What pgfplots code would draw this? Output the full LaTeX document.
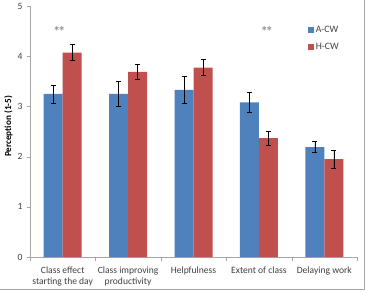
\documentclass[border=0pt]{standalone}
\usepackage{pgfplots}
\pgfplotsset{compat=1.18}
\usepackage{pgfplotstable}
\usepackage{fontspec}
\setmainfont{Carlito}

\definecolor{acw}{HTML}{4F81BD}
\definecolor{hcw}{HTML}{C0504D}
\definecolor{axisgray}{HTML}{A6A6A6}
\definecolor{labelgray}{HTML}{404040}

% mean perception score and its error, per item
\pgfplotstableread{
x  y     err
0  3.25  0.18
1  3.25  0.25
2  3.33  0.26
3  3.08  0.20
4  2.19  0.11
}\acwdata
\pgfplotstableread{
x  y     err
0  4.07  0.16
1  3.69  0.15
2  3.77  0.16
3  2.37  0.14
4  1.95  0.18
}\hcwdata

\begin{document}
\begin{tikzpicture}
\path[use as bounding box] (0,0) rectangle (369bp,294bp);
% outer chart frame
\draw[gray!70, line width=0.8pt] (0,5bp) -- (364bp,5bp) -- (364bp,294bp);
\begin{axis}[
  at={(30bp,37bp)}, anchor=south west,
  scale only axis,
  width=327bp, height=251bp,
  xmin=-0.5, xmax=4.5,
  ymin=0, ymax=5,
  axis lines*=left,
  axis line style={draw=axisgray, line width=0.6pt},
  ybar=0pt, bar width=19bp,
  xtick={0,1,2,3,4},
  xticklabels={{Class effect\\starting the day},{Class improving\\productivity},{Helpfulness},{Extent of class},{Delaying work}},
  x tick label style={align=center, font=\fontsize{9.6}{11.5}\selectfont, text=labelgray, yshift=-3bp},
  major x tick style={draw=none},
  minor xtick={-0.5,0.5,1.5,2.5,3.5,4.5},
  minor x tick style={draw=axisgray},
  minor tick length=4bp,
  ytick={0,1,2,3,4,5},
  y tick label style={font=\fontsize{9.6}{10}\selectfont, text=labelgray, xshift=-1bp},
  major y tick style={draw=axisgray},
  major tick length=3bp,
  tick align=outside,
  /pgf/number format/assume math mode=true,
  ylabel={\bfseries Perception (1-5)},
  ylabel style={font=\fontsize{9.2}{10}\selectfont, text=black,
    at={(axis description cs:0,0.52)}, anchor=south, yshift=14bp},
  legend style={draw=none, fill=none, at={(rel axis cs:0.84,0.935)}, anchor=north west,
    font=\fontsize{9.8}{10}\selectfont, text=labelgray, row sep=4.5bp,
    /tikz/every even column/.append style={column sep=2bp}},
  legend cell align=left,
  legend image code/.code={\fill[#1] (0bp,-3bp) rectangle (6bp,3bp);},
  error bars/error bar style={black, line width=0.6pt},
  error bars/error mark options={rotate=90, mark size=2.5bp, line width=0.6pt, black},
  clip=false,
]
\addplot[fill=acw, draw=none, error bars/.cd, y dir=both, y explicit]
  table[x=x, y=y, y error=err] {\acwdata};
\addlegendentry{A-CW}
\addplot[fill=hcw, draw=none, error bars/.cd, y dir=both, y explicit]
  table[x=x, y=y, y error=err] {\hcwdata};
\addlegendentry{H-CW}
% significance markers
\node[text=gray!85, font=\fontsize{14}{14}\selectfont\bfseries, inner sep=0pt] at (axis cs:-0.05,4.5) {*\kern-2bp*};
\node[text=gray!85, font=\fontsize{14}{14}\selectfont\bfseries, inner sep=0pt] at (axis cs:3.12,4.5) {*\kern-2bp*};
\end{axis}
\end{tikzpicture}
\end{document}
